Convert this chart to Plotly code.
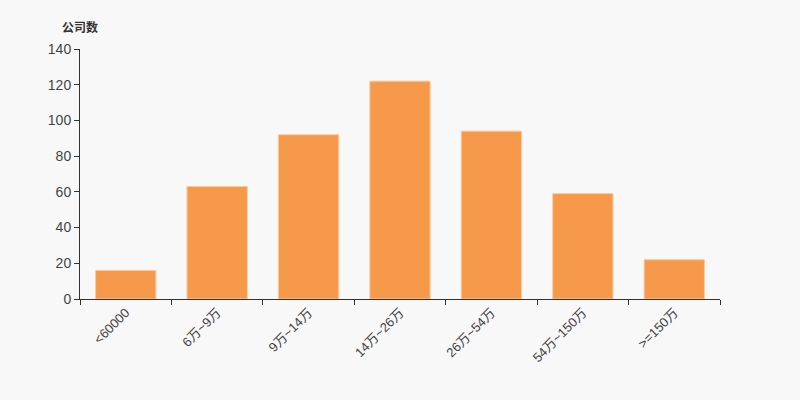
import plotly.graph_objects as go

categories = ["<60000", "6万~9万", "9万~14万", "14万~26万", "26万~54万", "54万~150万", ">=150万"]
counts = [16, 63, 92, 122, 94, 59, 22]
y_ticks = [0, 20, 40, 60, 80, 100, 120, 140]

fig = go.Figure(go.Bar(
    x=categories, y=counts,
    marker=dict(color="#f7994a", line=dict(color="#fbc9a0", width=1)),
    hoverinfo="x+y",
))

font = "Liberation Sans, Arial, Noto Sans CJK SC, sans-serif"
fig.update_layout(
    width=800, height=400,
    paper_bgcolor="#f8f8f8", plot_bgcolor="#f8f8f8",
    margin=dict(l=80, r=80, t=49, b=101),
    bargap=0.34,
    showlegend=False,
    font=dict(family=font, size=13, color="#333"),
    xaxis=dict(
        type="category", tickson="boundaries", ticks="outside", ticklen=5,
        tickcolor="#333", showline=True, linecolor="#333", linewidth=1,
        tickangle=-45, showgrid=False, tickfont=dict(size=13, color="#444"),
    ),
    yaxis=dict(
        range=[0, 140], tickvals=y_ticks, ticks="outside", ticklen=5,
        tickcolor="#333", showline=True, linecolor="#333", linewidth=1,
        showgrid=False, zeroline=False, tickfont=dict(size=14, color="#444"),
    ),
    annotations=[dict(
        text="<b>公司数</b>", xref="paper", yref="paper", x=0.0, y=1.0,
        yshift=22, xanchor="center", yanchor="middle", showarrow=False,
        font=dict(size=12, color="#333", family=font),
    )],
)

fig.write_html(
    "out.html",
    config={"displayModeBar": False},
    post_script="document.body.style.margin='0';document.body.style.background='#f8f8f8';",
)
